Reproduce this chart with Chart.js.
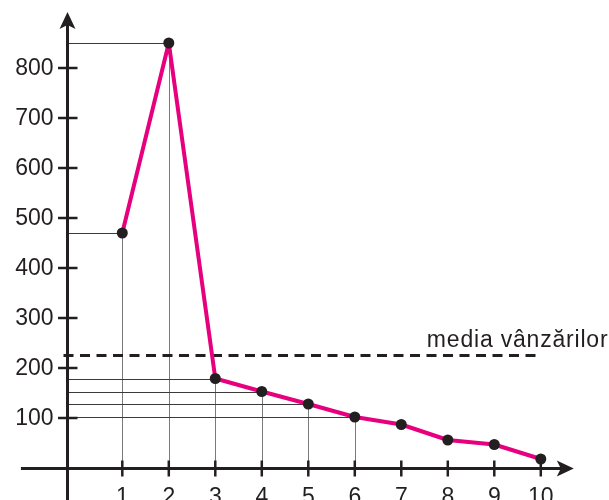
<!DOCTYPE html>
<html>
<head>
<meta charset="utf-8">
<script src="https://cdn.jsdelivr.net/npm/chart.js@4/dist/chart.umd.min.js"></script>
<style>
html,body{margin:0;padding:0;background:#fff;}
#wrap{width:609px;height:500px;position:relative;}
</style>
</head>
<body>
<div id="wrap"><canvas id="c" width="609" height="500"></canvas></div>
<script>
// ---- data ----
const categories = [1, 2, 3, 4, 5, 6, 7, 8, 9, 10];
const sales = [470, 850, 179, 153, 128, 102, 87, 56, 47, 18];
const guidedPoints = [1, 2, 3, 4, 5, 6];          // points with reference lines to the axes
const yTicks = [100, 200, 300, 400, 500, 600, 700, 800];
const xTicks = [1, 2, 3, 4, 5, 6, 7, 8, 9, 10];
const meanValue = [225];
const meanLabel = ["media vânzărilor"];

const INK = '#231f20';
const MAGENTA = '#e6007e';

const axisPlugin = {
  id: 'axisPlugin',
  beforeDatasetsDraw(chart) {
    const ctx = chart.ctx;
    const xs = chart.scales.x, ys = chart.scales.y;
    const X = v => xs.getPixelForValue(v);
    const Y = v => ys.getPixelForValue(v);
    const ax = Math.round(X(-0.19)) + 0.5;   // y-axis position
    const ay = Math.round(Y(0)) + 0.5;       // x-axis position
    ctx.save();

    // reference lines
    ctx.lineWidth = 1;
    guidedPoints.forEach(c => {
      const i = categories.indexOf(c);
      const px = Math.round(X(c)) + 0.5, py = Math.round(Y(sales[i])) + 0.5;
      ctx.strokeStyle = '#3a3a3a';
      ctx.beginPath(); ctx.moveTo(ax, py); ctx.lineTo(px, py); ctx.stroke();
      ctx.strokeStyle = '#7a7a7a';
      ctx.beginPath(); ctx.moveTo(px, ay); ctx.lineTo(px, py); ctx.stroke();
    });

    // mean dashed line
    const my = Y(meanValue[0]);
    ctx.strokeStyle = INK;
    ctx.lineWidth = 3;
    ctx.setLineDash([10, 6.5]);
    ctx.beginPath(); ctx.moveTo(ax - 4, my); ctx.lineTo(X(10), my); ctx.stroke();
    ctx.setLineDash([]);

    // label
    ctx.fillStyle = INK;
    ctx.font = '23px "Liberation Sans", Arial, sans-serif';
    ctx.letterSpacing = '0.8px';
    ctx.textAlign = 'left';
    ctx.textBaseline = 'alphabetic';
    ctx.fillText(meanLabel[0], X(7.55), my - 8.5);
    ctx.letterSpacing = '0px';

    // axes
    ctx.strokeStyle = INK;
    ctx.lineWidth = 3;
    const xTip = X(10.71), yTip = Y(912);
    ctx.beginPath(); ctx.moveTo(X(-1.18), ay); ctx.lineTo(xTip - 10, ay); ctx.stroke();
    ctx.beginPath(); ctx.moveTo(ax, chart.height); ctx.lineTo(ax, yTip + 10); ctx.stroke();
    // arrowheads
    ctx.fillStyle = INK;
    ctx.beginPath();
    ctx.moveTo(xTip, ay); ctx.lineTo(xTip - 17, ay - 8); ctx.lineTo(xTip - 13, ay); ctx.lineTo(xTip - 17, ay + 8); ctx.closePath(); ctx.fill();
    ctx.beginPath();
    ctx.moveTo(ax, yTip); ctx.lineTo(ax - 8, yTip + 17); ctx.lineTo(ax, yTip + 13); ctx.lineTo(ax + 8, yTip + 17); ctx.closePath(); ctx.fill();

    // ticks
    ctx.lineWidth = 2.5;
    yTicks.forEach(v => {
      const py = Y(v);
      ctx.beginPath(); ctx.moveTo(ax - 9.5, py); ctx.lineTo(ax + 10, py); ctx.stroke();
    });
    xTicks.forEach(v => {
      const px = X(v);
      ctx.beginPath(); ctx.moveTo(px, ay - 8); ctx.lineTo(px, ay + 8); ctx.stroke();
    });

    // tick labels
    ctx.font = '23px "Liberation Sans", Arial, sans-serif';
    ctx.fillStyle = INK;
    ctx.textAlign = 'right';
    ctx.textBaseline = 'middle';
    yTicks.forEach(v => ctx.fillText(String(v), ax - 14, Y(v) + 1));
    ctx.textAlign = 'center';
    ctx.textBaseline = 'alphabetic';
    xTicks.forEach(v => ctx.fillText(String(v), X(v), ay + 35.5));
    ctx.restore();
  }
};

new Chart(document.getElementById('c'), {
  type: 'scatter',
  data: {
    datasets: [{
      data: categories.map((c, i) => ({ x: c, y: sales[i] })),
      showLine: true,
      borderColor: MAGENTA,
      borderWidth: 4,
      borderJoinStyle: 'round',
      tension: 0,
      pointRadius: 5.5,
      pointBackgroundColor: INK,
      pointBorderColor: INK,
      pointBorderWidth: 0,
      clip: false
    }]
  },
  options: {
    responsive: false,
    animation: false,
    events: [],
    layout: { padding: 0, autoPadding: false },
    plugins: { legend: { display: false }, tooltip: { enabled: false } },
    scales: {
      x: { type: 'linear', display: false, min: -1.63, max: 11.467 },
      y: { type: 'linear', display: false, min: -64, max: 936 }
    }
  },
  plugins: [axisPlugin]
});
</script>
</body>
</html>
